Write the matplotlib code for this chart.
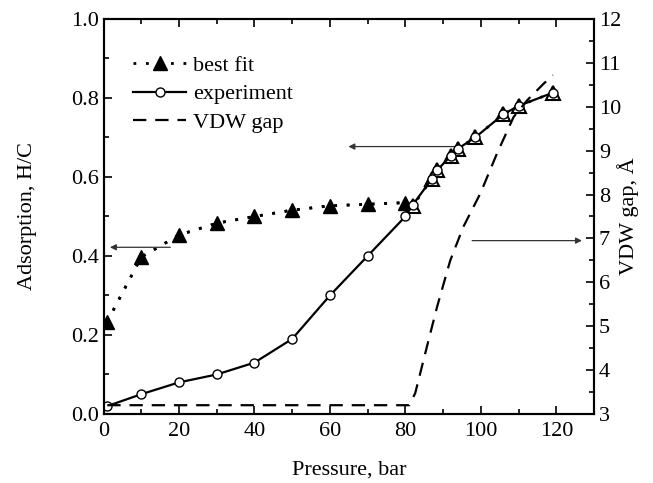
import matplotlib
matplotlib.use("Agg")
import matplotlib.pyplot as plt
from matplotlib.ticker import MultipleLocator

plt.rcParams['font.family'] = ['Liberation Serif', 'DejaVu Serif']
plt.rcParams['font.size'] = 16

# data
pressure_exp = [1, 10, 20, 30, 40, 50, 60, 70, 80, 82, 87, 88.5, 92, 94, 98.5, 106, 110, 119]
adsorb_exp = [0.02, 0.05, 0.08, 0.10, 0.13, 0.19, 0.30, 0.40, 0.50, 0.53,
              0.595, 0.618, 0.653, 0.672, 0.70, 0.759, 0.78, 0.813]

pressure_fit = [1, 10, 20, 30, 40, 50, 60, 70, 80, 82, 87, 88.5, 92, 94, 98.5, 106, 110, 119]
adsorb_fit = [0.234, 0.397, 0.453, 0.483, 0.50, 0.516, 0.527, 0.531, 0.535, 0.527,
              0.595, 0.618, 0.653, 0.672, 0.70, 0.759, 0.78, 0.813]
n_filled = 9  # first points drawn as filled triangles

pressure_vdw = [1, 80, 81, 82.6, 85.7, 88.4, 91.9, 95.4, 99.9, 104.3, 108.7, 112.3, 116.7, 119.1]
vdw_gap = [3.2, 3.2, 3.2, 3.47, 4.53, 5.44, 6.5, 7.27, 8.03, 8.94, 9.77, 10.15, 10.53, 10.72]

fig = plt.figure(figsize=(6.53, 4.83), dpi=100)
ax = fig.add_axes([0.1585, 0.1429, 0.7512, 0.8178])
ax2 = ax.twinx()

# best fit
ax.plot(pressure_fit, adsorb_fit, color='black', linestyle=(0, (1, 3.5)), lw=2,
        zorder=2)
fit_line, = ax.plot(pressure_fit[:n_filled], adsorb_fit[:n_filled], linestyle=(0, (1, 3.5)),
                    lw=2, color='black', marker='^', ms=10, mfc='black', mec='black',
                    label='best fit', zorder=3)
ax.plot(pressure_fit[n_filled:], adsorb_fit[n_filled:], linestyle='none', marker='^',
        ms=10, mfc='white', mec='black', mew=1.5, zorder=3)

# experiment
exp_line, = ax.plot(pressure_exp, adsorb_exp, color='black', lw=1.6, marker='o', ms=6.5,
                    mfc='white', mec='black', mew=1.0, label='experiment', zorder=4)

# VDW gap on right axis
vdw_line, = ax2.plot(pressure_vdw, vdw_gap, color='black', lw=1.6,
                     linestyle=(0, (6, 4)), label='VDW gap')

ax.set_xlim(0, 130)
ax.set_ylim(0, 1.0)
ax2.set_ylim(3, 12)

ax.xaxis.set_major_locator(MultipleLocator(20))
ax.xaxis.set_minor_locator(MultipleLocator(10))
ax.yaxis.set_major_locator(MultipleLocator(0.2))
ax.yaxis.set_minor_locator(MultipleLocator(0.1))
ax2.yaxis.set_major_locator(MultipleLocator(1))
ax2.yaxis.set_minor_locator(MultipleLocator(0.5))

ax.tick_params(axis='x', which='both', direction='in', top=True, labelsize=16, pad=6)
ax.tick_params(axis='y', which='both', direction='in', right=False, labelsize=16)
ax.tick_params(which='major', length=6, width=1.2)
ax.tick_params(which='minor', length=3.5, width=1.2)
ax2.tick_params(axis='y', which='both', direction='in', labelsize=16)
ax2.tick_params(which='major', length=6, width=1.2)
ax2.tick_params(which='minor', length=3.5, width=1.2)
ax.yaxis.set_major_formatter(matplotlib.ticker.FormatStrFormatter('%.1f'))

for sp in ax.spines.values():
    sp.set_linewidth(1.5)
for sp in ax2.spines.values():
    sp.set_linewidth(1.5)

ax.set_xlabel('Pressure, bar', fontsize=16, labelpad=14)
ax.set_ylabel('Adsorption, H/C', fontsize=16, labelpad=24)
ax2.set_ylabel('VDW gap, Å', fontsize=16, labelpad=-3)

# arrows pointing to the axes
arrow_kw = dict(arrowstyle='-|>', lw=0.9, color='#333333', mutation_scale=9,
                shrinkA=0, shrinkB=0)
ax.annotate('', xy=(1.7, 0.422), xytext=(17.7, 0.422), arrowprops=arrow_kw)
ax.annotate('', xy=(64.9, 0.677), xytext=(94.6, 0.677), arrowprops=arrow_kw)
ax2.annotate('', xy=(126.8, 6.95), xytext=(97.7, 6.95), arrowprops=arrow_kw)

leg = ax2.legend([fit_line, exp_line, vdw_line], ['best fit', 'experiment', 'VDW gap'],
                 loc='upper left', bbox_to_anchor=(0.042, 0.93), frameon=False,
                 fontsize=16, handlelength=2.4, handletextpad=0.3,
                 labelspacing=0.35, borderaxespad=0)

fig.savefig('out.png', dpi=100)
